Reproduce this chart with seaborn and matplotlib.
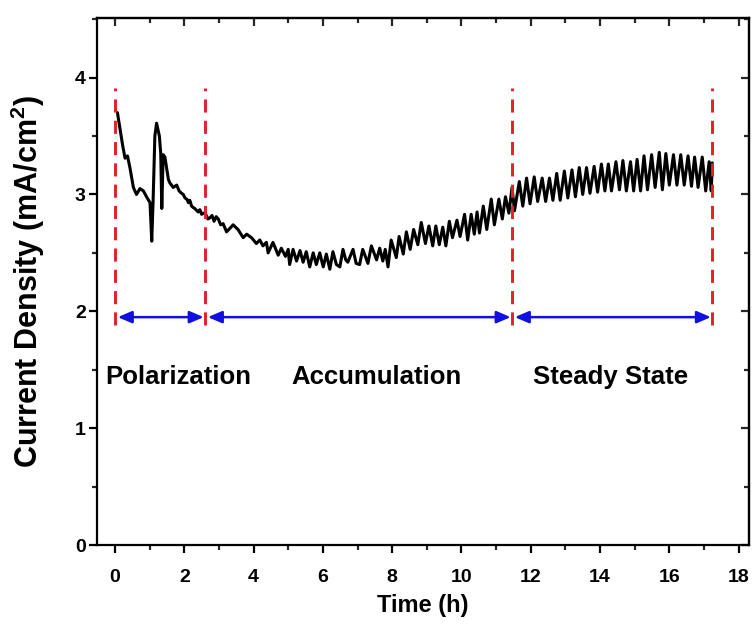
import matplotlib
matplotlib.use("Agg")
import matplotlib.pyplot as plt
import seaborn as sns
import pandas as pd
from matplotlib.ticker import MultipleLocator

# ---- data ----
time_h = [0.07, 0.15, 0.22, 0.29, 0.36, 0.43, 0.53, 0.62, 0.72, 0.82, 0.91, 1.01, 1.06, 1.10,
          1.15, 1.20, 1.28, 1.32, 1.35, 1.39, 1.44, 1.54, 1.58, 1.63, 1.68, 1.73, 1.78,
          1.85, 1.92, 1.97, 2.02, 2.07, 2.12, 2.16, 2.21, 2.25, 2.30, 2.40, 2.45, 2.50,
          2.55, 2.62, 2.68, 2.74, 2.80, 2.86, 2.92, 2.98, 3.05, 3.12, 3.22, 3.41, 3.55,
          3.70, 3.80, 3.94, 4.08, 4.18, 4.27, 4.37, 4.42, 4.56, 4.71, 4.80, 4.92, 5.00,
          5.04, 5.14, 5.24, 5.34, 5.43, 5.52, 5.62, 5.72, 5.81, 5.91, 6.01, 6.10, 6.20,
          6.29, 6.39, 6.49, 6.58, 6.66, 6.72, 6.87, 6.96, 7.06, 7.15, 7.30, 7.40, 7.55,
          7.64, 7.73, 7.80, 7.88, 7.97, 8.12, 8.20, 8.32, 8.41, 8.52, 8.62, 8.74, 8.84,
          8.96, 9.06, 9.17, 9.26, 9.36, 9.46, 9.55, 9.65, 9.74, 9.87, 9.96, 10.09, 10.18,
          10.28, 10.37, 10.45, 10.52, 10.63, 10.73, 10.86, 10.95, 11.08, 11.18, 11.27,
          11.37, 11.46, 11.53, 11.67, 11.77, 11.88, 11.98, 12.10, 12.20, 12.33, 12.43,
          12.54, 12.64, 12.75, 12.85, 12.97, 13.07, 13.19, 13.29, 13.40, 13.50, 13.61,
          13.71, 13.83, 13.93, 14.04, 14.14, 14.24, 14.33, 14.46, 14.56, 14.66, 14.76,
          14.88, 14.97, 15.07, 15.17, 15.27, 15.37, 15.49, 15.59, 15.71, 15.80, 15.90,
          16.00, 16.12, 16.22, 16.33, 16.43, 16.54, 16.64, 16.73, 16.83, 16.95, 17.05,
          17.15, 17.21, 17.24]
current_density = [3.70, 3.55, 3.42, 3.31, 3.33, 3.23, 3.06, 3.00, 3.05, 3.03, 2.98, 2.93, 2.60, 2.95,
                   3.50, 3.61, 3.50, 3.35, 2.88, 3.34, 3.32, 3.13, 3.10, 3.08, 3.06, 3.07, 3.08,
                   3.03, 3.01, 3.00, 2.97, 2.96, 2.93, 2.95, 2.90, 2.89, 2.88, 2.85, 2.87, 2.83,
                   2.84, 2.83, 2.79, 2.80, 2.82, 2.77, 2.81, 2.79, 2.74, 2.75, 2.68, 2.74, 2.70,
                   2.63, 2.66, 2.63, 2.58, 2.61, 2.56, 2.59, 2.50, 2.59, 2.48, 2.54, 2.47, 2.53,
                   2.40, 2.53, 2.43, 2.52, 2.42, 2.51, 2.38, 2.50, 2.40, 2.50, 2.38, 2.49, 2.36,
                   2.51, 2.40, 2.38, 2.53, 2.44, 2.42, 2.53, 2.41, 2.40, 2.53, 2.41, 2.56, 2.44,
                   2.54, 2.43, 2.53, 2.38, 2.61, 2.46, 2.64, 2.49, 2.68, 2.53, 2.70, 2.57, 2.76,
                   2.58, 2.73, 2.56, 2.73, 2.57, 2.72, 2.56, 2.77, 2.63, 2.78, 2.64, 2.83, 2.61,
                   2.83, 2.66, 2.85, 2.67, 2.90, 2.70, 2.96, 2.74, 2.96, 2.79, 2.98,
                   2.84, 3.06, 2.86, 3.11, 2.90, 3.14, 2.92, 3.15, 2.94, 3.14, 2.94,
                   3.14, 2.95, 3.18, 2.95, 3.20, 2.97, 3.21, 2.98, 3.23, 3.00, 3.23,
                   3.01, 3.24, 3.02, 3.26, 3.03, 3.26, 3.03, 3.28, 3.04, 3.29, 3.03,
                   3.28, 3.03, 3.30, 3.03, 3.33, 3.04, 3.34, 3.06, 3.36, 3.04, 3.35,
                   3.08, 3.34, 3.08, 3.34, 3.08, 3.33, 3.07, 3.32, 3.06, 3.32, 3.03,
                   3.28, 3.03, 3.27]

stage_bounds = [0.0, 2.6, 11.46, 17.24]
stage_names = ["Polarization", "Accumulation", "Steady State"]
stage_label_x = [1.82, 7.55, 14.3]
stage_label_y = 1.44
arrow_y = 1.95
dash_ymin, dash_ymax = 1.88, 3.91

x_label = "Time (h)"
y_label = "Current Density (mA/cm$^{2}$)"

# ---- plotting ----
sns.set_theme(style="ticks")
plt.rcParams["font.family"] = ["Liberation Sans", "DejaVu Sans"]
plt.rcParams["mathtext.fontset"] = "custom"
plt.rcParams["mathtext.rm"] = "Liberation Sans:bold"
plt.rcParams["mathtext.it"] = "Liberation Sans:bold"
plt.rcParams["mathtext.bf"] = "Liberation Sans:bold"

fig = plt.figure(figsize=(7.52, 6.30), dpi=100, facecolor="white")
ax = fig.add_axes([97 / 752, 85 / 630, 652 / 752, 527 / 630])
ax.set_facecolor("white")

df = pd.DataFrame({"t": time_h, "j": current_density})
sns.lineplot(data=df, x="t", y="j", ax=ax, color="black", linewidth=2.2,
             sort=False, estimator=None)

for xb in stage_bounds:
    ax.plot([xb, xb], [dash_ymin, dash_ymax], color="#e0202a", linestyle=(0, (4.5, 2.8)),
            linewidth=2.1, zorder=3)

for i in range(len(stage_names)):
    x0, x1 = stage_bounds[i], stage_bounds[i + 1]
    ax.annotate("", xy=(x1 - 0.04, arrow_y), xytext=(x0 + 0.08, arrow_y),
                arrowprops=dict(arrowstyle="<|-|>,head_length=0.7,head_width=0.3",
                                color="#1010e0", lw=1.8, shrinkA=0, shrinkB=0),
                zorder=4)
    ax.text(stage_label_x[i], stage_label_y, stage_names[i], ha="center", va="center",
            fontsize=18.5, fontweight="bold", color="black")

ax.set_xlim(-0.52, 18.3)
ax.set_ylim(0, 4.51)
ax.xaxis.set_major_locator(MultipleLocator(2))
ax.xaxis.set_minor_locator(MultipleLocator(1))
ax.yaxis.set_major_locator(MultipleLocator(1))
ax.yaxis.set_minor_locator(MultipleLocator(0.5))

for s in ax.spines.values():
    s.set_visible(True)
    s.set_linewidth(1.6)
    s.set_color("black")

ax.tick_params(which="major", direction="out", length=6, width=1.6, labelsize=14,
               colors="black")
ax.tick_params(which="minor", direction="out", length=3.5, width=1.6)
ax.tick_params(axis="x", which="major", pad=11)
ax.tick_params(axis="y", which="major", pad=2)
for lab in ax.get_xticklabels() + ax.get_yticklabels():
    lab.set_fontweight("bold")

secx = ax.secondary_xaxis("top")
secx.xaxis.set_major_locator(MultipleLocator(2))
secx.xaxis.set_minor_locator(MultipleLocator(1))
secx.tick_params(which="major", direction="in", length=6, width=1.6, labeltop=False)
secx.tick_params(which="minor", direction="in", length=3.5, width=1.6)
secx.spines["top"].set_linewidth(1.6)
secy = ax.secondary_yaxis("right")
secy.yaxis.set_major_locator(MultipleLocator(1))
secy.yaxis.set_minor_locator(MultipleLocator(0.5))
secy.tick_params(which="major", direction="in", length=6, width=1.6, labelright=False)
secy.tick_params(which="minor", direction="in", length=3.5, width=1.6)
secy.spines["right"].set_linewidth(1.6)

ax.set_xlabel(x_label, fontsize=17, fontweight="bold", labelpad=6, color="black")
ax.set_ylabel(y_label, fontsize=22, fontweight="bold", labelpad=20, color="black")

fig.savefig("out.png", dpi=100, facecolor="white")
